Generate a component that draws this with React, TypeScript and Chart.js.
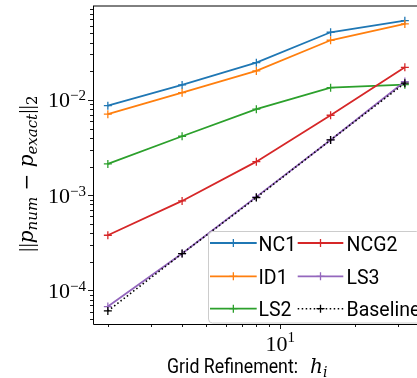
import React, { useEffect, useRef } from "react";
import { Chart, registerables } from "chart.js";

Chart.register(...registerables);

// ---- data ----
const gridSizes = [2, 4, 8, 16, 32];
const nc1 = [8.71e-3, 1.437e-2, 2.46e-2, 5.13e-2, 6.79e-2];
const id1 = [7.08e-3, 1.193e-2, 2.015e-2, 4.23e-2, 6.27e-2];
const ls2 = [2.13e-3, 4.16e-3, 7.99e-3, 1.346e-2, 1.447e-2];
const ncg2 = [3.8e-4, 8.71e-4, 2.25e-3, 6.91e-3, 2.2e-2];
const ls3 = [6.78e-5, 2.44e-4, 9.6e-4, 3.8e-3, 1.56e-2];
const baseline = [6.1e-5, 2.44e-4, 9.44e-4, 3.8e-3, 1.5e-2];

const seriesLabels = ["NC1", "ID1", "LS2", "NCG2", "LS3", "Baseline"];
const seriesValues = [nc1, id1, ls2, ncg2, ls3, baseline];
const seriesColors = ["#1f77b4", "#ff7f0e", "#2ca02c", "#d62728", "#9467bd", "#000000"];

const yTickExponents = [-4, -3, -2];
const xTickExponents = [1];
const xMinorTicks = [2, 3, 4, 5, 6, 7, 8, 9, 20, 30];
const xLimits = [1.7411, 36.758];
const yLimits = [4.45e-5, 0.0968];

const xTitleText = "Grid Refinement:";
const legendColumns = [
  [0, 1, 2],
  [3, 4, 5],
];

const SERIF = '"Liberation Serif", serif';
const MATH = '"DejaVu Serif", serif';
const SANS = 'Roboto, "Open Sans", sans-serif';

function sup(n: number) {
  return n < 0 ? "\u2212" + Math.abs(n) : String(n);
}

function drawRuns(
  ctx: CanvasRenderingContext2D,
  runs: { text: string; font: string; dy?: number }[],
  x: number,
  y: number
) {
  let cx = x;
  for (const r of runs) {
    ctx.font = r.font;
    ctx.fillText(r.text, cx, y + (r.dy || 0));
    cx += ctx.measureText(r.text).width;
  }
}

const decorPlugin = {
  id: "decor",
  afterDraw(chart: any) {
    const ctx: CanvasRenderingContext2D = chart.ctx;
    const { left, top, right, bottom } = chart.chartArea;
    const xs = chart.scales.x;
    const ys = chart.scales.y;
    ctx.save();

    // spines
    ctx.strokeStyle = "#000";
    ctx.lineWidth = 1;
    ctx.beginPath();
    ctx.moveTo(left + 0.5, top);
    ctx.lineTo(left + 0.5, bottom + 0.5);
    ctx.lineTo(right, bottom + 0.5);
    ctx.stroke();
    ctx.beginPath();
    ctx.moveTo(left, top);
    ctx.lineTo(right, top);
    ctx.stroke();

    // y ticks
    ctx.lineWidth = 0.9;
    for (let e = -5; e <= -1; e++) {
      for (let m = 1; m <= 9; m++) {
        const v = m * Math.pow(10, e);
        if (v < yLimits[0] || v > yLimits[1]) continue;
        const py = Math.round(ys.getPixelForValue(v)) + 0.5;
        const len = m === 1 ? 5 : 3;
        ctx.beginPath();
        ctx.moveTo(left - len, py);
        ctx.lineTo(left, py);
        ctx.stroke();
      }
    }
    // x ticks
    const xt = [...xMinorTicks.map((v) => ({ v, major: false })), ...xTickExponents.map((e) => ({ v: Math.pow(10, e), major: true }))];
    for (const t of xt) {
      const px = Math.round(xs.getPixelForValue(t.v)) + 0.5;
      const len = t.major ? 5 : 3;
      ctx.beginPath();
      ctx.moveTo(px, bottom);
      ctx.lineTo(px, bottom + len);
      ctx.stroke();
    }

    ctx.fillStyle = "#000";
    ctx.textBaseline = "alphabetic";
    // y tick labels
    for (const e of yTickExponents) {
      const py = ys.getPixelForValue(Math.pow(10, e));
      ctx.textAlign = "right";
      ctx.font = "15px " + SERIF;
      const s = sup(e);
      const sw = ctx.measureText(s).width;
      ctx.fillText(s, 86, py + 0.5);
      ctx.font = "22px " + SERIF;
      ctx.fillText("10", 86 - sw, py + 7.5);
    }
    // x tick labels
    for (const e of xTickExponents) {
      const px = xs.getPixelForValue(Math.pow(10, e));
      ctx.textAlign = "left";
      ctx.font = "22px " + SERIF;
      const w10 = ctx.measureText("10").width;
      ctx.font = "15px " + SERIF;
      const s = sup(e);
      const sw = ctx.measureText(s).width;
      const x0 = px - (w10 + sw) / 2;
      ctx.font = "22px " + SERIF;
      ctx.fillText("10", x0, 350.5);
      ctx.font = "15px " + SERIF;
      ctx.fillText(s, x0 + w10, 342);
    }

    // x title
    ctx.textAlign = "left";
    ctx.font = "20px " + SANS;
    ctx.fillText(xTitleText, 167, 373.3, 131);
    drawRuns(
      ctx,
      [
        { text: "h", font: "italic 20px " + MATH },
        { text: "i", font: "italic 14px " + MATH, dy: 4 },
      ],
      310,
      373.3
    );

    // y title (rotated)
    ctx.save();
    ctx.translate(33, 252);
    ctx.rotate(-Math.PI / 2);
    drawRuns(
      ctx,
      [
        { text: "||", font: "22px " + SERIF },
        { text: "p", font: "italic 20px " + MATH },
        { text: "num", font: "italic 15px " + MATH, dy: 4 },
        { text: " \u2212 ", font: "20px " + MATH },
        { text: "p", font: "italic 20px " + MATH },
        { text: "exact", font: "italic 15px " + MATH, dy: 4 },
        { text: "||", font: "22px " + SERIF },
        { text: "2", font: "15px " + MATH, dy: 4 },
      ],
      0,
      0
    );
    ctx.restore();

    // legend
    ctx.beginPath();
    (ctx as any).roundRect(208.5, 231.5, 212, 91.5, 4);
    ctx.fillStyle = "rgba(255,255,255,0.8)";
    ctx.fill();
    ctx.strokeStyle = "#cccccc";
    ctx.lineWidth = 1;
    ctx.stroke();

    const colX0 = [210, 297.7];
    const colX1 = [256.7, 343.3];
    const colText = [258.5, 346.5];
    const rowY = [243, 276.3, 308.7];
    const ds = chart.data.datasets;
    legendColumns.forEach((col, ci) => {
      col.forEach((di, ri) => {
        const d = ds[di];
        const y = rowY[ri];
        ctx.strokeStyle = d.borderColor;
        ctx.lineWidth = d.borderWidth;
        ctx.setLineDash(d.borderDash || []);
        ctx.beginPath();
        ctx.moveTo(colX0[ci], y);
        ctx.lineTo(colX1[ci], y);
        ctx.stroke();
        ctx.setLineDash([]);
        const mx = (colX0[ci] + colX1[ci]) / 2;
        ctx.lineWidth = 1.3;
        ctx.beginPath();
        ctx.moveTo(mx - 4, y);
        ctx.lineTo(mx + 4, y);
        ctx.moveTo(mx, y - 4);
        ctx.lineTo(mx, y + 4);
        ctx.stroke();
        ctx.fillStyle = "#000";
        ctx.font = "21px " + SANS;
        const w = ctx.measureText(d.label).width;
        ctx.fillText(d.label, colText[ci], y + 7.7, w * 0.93);
      });
    });

    ctx.restore();
  },
};

export default function App() {
  const ref = useRef<HTMLCanvasElement | null>(null);
  useEffect(() => {
    if (!ref.current) return;
    const chart = new Chart(ref.current, {
      type: "line",
      data: {
        datasets: seriesLabels.map((label, i) => ({
          label,
          data: gridSizes.map((x, j) => ({ x, y: seriesValues[i][j] })),
          borderColor: seriesColors[i],
          backgroundColor: seriesColors[i],
          borderWidth: i === 5 ? 1.6 : 1.8,
          borderDash: i === 5 ? [1.5, 2.5] : [],
          pointStyle: "cross",
          pointRadius: 4,
          pointHoverRadius: 4,
          pointBorderWidth: 1.3,
          fill: false,
          tension: 0,
          order: 5 - i,
        })),
      },
      options: {
        animation: false,
        responsive: false,
        devicePixelRatio: 1,
        events: [],
        layout: { padding: { left: 0, right: 4, top: 6, bottom: 0 } },
        plugins: { legend: { display: false }, tooltip: { enabled: false } },
        scales: {
          x: {
            type: "logarithmic",
            min: xLimits[0],
            max: xLimits[1],
            bounds: "data",
            ticks: { display: false },
            grid: { display: false },
            border: { display: false },
            afterFit: (s: any) => {
              s.height = 54;
            },
          },
          y: {
            type: "logarithmic",
            min: yLimits[0],
            max: yLimits[1],
            bounds: "data",
            ticks: { display: false },
            grid: { display: false },
            border: { display: false },
            afterFit: (s: any) => {
              s.width = 93;
            },
          },
        },
      } as any,
      plugins: [decorPlugin],
    });
    return () => chart.destroy();
  }, []);
  return (
    <div
      style={{
        position: "fixed",
        left: 0,
        top: 0,
        width: 417,
        height: 378,
        overflow: "hidden",
        background: "#fff",
      }}
    >
      <canvas ref={ref} width={425} height={378} style={{ display: "block" }} />
    </div>
  );
}
